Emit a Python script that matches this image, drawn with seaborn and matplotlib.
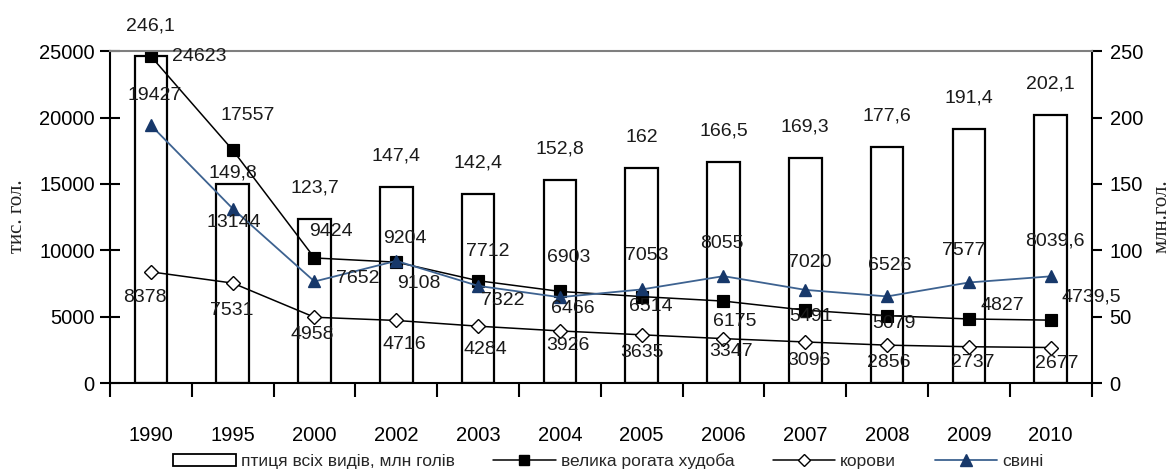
import numpy as np
import matplotlib
matplotlib.use('Agg')
import matplotlib.pyplot as plt
import seaborn as sns
from matplotlib.patches import Patch
from matplotlib.lines import Line2D

# data
years = ['1990', '1995', '2000', '2002', '2003', '2004', '2005', '2006', '2007', '2008', '2009', '2010']
poultry = [246.1, 149.8, 123.7, 147.4, 142.4, 152.8, 162, 166.5, 169.3, 177.6, 191.4, 202.1]
cattle = [24623, 17557, 9424, 9108, 7712, 6903, 6514, 6175, 5491, 5079, 4827, 4739.5]
cows = [8378, 7531, 4958, 4716, 4284, 3926, 3635, 3347, 3096, 2856, 2737, 2677]
pigs = [19427, 13144, 7652, 9204, 7322, 6466, 7053, 8055, 7020, 6526, 7577, 8039.6]

poultry_lbl = ['246,1', '149,8', '123,7', '147,4', '142,4', '152,8', '162', '166,5', '169,3', '177,6', '191,4', '202,1']
cattle_lbl = ['24623', '17557', '9424', '9108', '7712', '6903', '6514', '6175', '5491', '5079', '4827', '4739,5']
cows_lbl = ['8378', '7531', '4958', '4716', '4284', '3926', '3635', '3347', '3096', '2856', '2737', '2677']
pigs_lbl = ['19427', '13144', '7652', '9204', '7322', '6466', '7053', '8055', '7020', '6526', '7577', '8039,6']

# label offsets in pixels (style only)
cattle_off = [(48, 0), (15, 35), (16, 26), (23, -21), (10, 29), (9, 34), (9, -10), (11, -20), (6, -6), (7, -8), (33, 13), (41, 23)]
pigs_off = [(4, 30), (1, -14), (43, 3), (9, 22), (25, -15), (13, -11), (5, 34), (-2, 33), (4, 27), (3, 31), (-5, 32), (4, 35)]
cows_off = [(-6, -26), (-1, -27), (-2, -17), (8, -24), (7, -23), (8, -15), (0, -18), (8, -13), (4, -19), (2, -17), (4, -16), (6, -16)]
bar_off = [30, 11, 31, 31, 31, 31, 31, 31, 31, 31, 31, 31]

sns.set_theme(style='white')
plt.rcParams['font.family'] = ['Liberation Sans', 'DejaVu Sans']

fig = plt.figure(figsize=(11.7, 4.7), dpi=100)
ax = fig.add_axes([0.094, 0.185, 0.839, 0.706])
ax2 = ax.twinx()

pig_line = '#3d6290'
pig_mark = '#17386a'

# bars on right axis
sns.barplot(x=years, y=poultry, ax=ax2, color='white', width=0.4, saturation=1)
for p in ax2.patches:
    p.set_edgecolor('black')
    p.set_linewidth(1.6)
ax2.set_ylim(0, 250)
ax2.set_yticks(np.arange(0, 251, 50))

# lines on left axis
sns.pointplot(x=years, y=cattle, ax=ax, color='black', markers='s', errorbar=None,
              markersize=8, linewidth=1.1)
sns.pointplot(x=years, y=cows, ax=ax, color='black', markers='D', errorbar=None,
              markersize=7, linewidth=1.1, markerfacecolor='white', markeredgewidth=1.0)
sns.pointplot(x=years, y=pigs, ax=ax, color=pig_line, markers='^', errorbar=None,
              markersize=9, linewidth=1.3, markerfacecolor=pig_mark, markeredgecolor=pig_mark)
ax.set_ylim(0, 25000)
ax.set_yticks(np.arange(0, 25001, 5000))
ax.set_xlim(-0.5, 11.5)

ax.set_zorder(ax2.get_zorder() + 1)
ax.patch.set_visible(False)

fs = 14
txt_col = '#1a1a1a'
for i, v in enumerate(poultry):
    ax2.annotate(poultry_lbl[i], (i, v), xytext=(0, bar_off[i]), textcoords='offset pixels',
                 ha='center', va='center', fontsize=fs, color=txt_col)
for vals, lbls, offs in [(cattle, cattle_lbl, cattle_off), (pigs, pigs_lbl, pigs_off), (cows, cows_lbl, cows_off)]:
    for i, v in enumerate(vals):
        ax.annotate(lbls[i], (i, v), xytext=offs[i], textcoords='offset pixels',
                    ha='center', va='center', fontsize=fs, color=txt_col, zorder=5)

# axes styling
for a in (ax, ax2):
    a.set_xlabel('')
    a.set_ylabel('')
    for s in a.spines.values():
        s.set_visible(False)
ax.spines['left'].set_visible(True)
ax.spines['left'].set_color('black')
ax.spines['left'].set_linewidth(1.5)
ax.spines['bottom'].set_visible(True)
ax.spines['bottom'].set_color('black')
ax.spines['bottom'].set_linewidth(1.5)
ax.spines['top'].set_visible(True)
ax.spines['top'].set_color('#7f7f7f')
ax.spines['top'].set_linewidth(1.5)
ax2.spines['right'].set_visible(True)
ax2.spines['right'].set_color('black')
ax2.spines['right'].set_linewidth(1.5)

ax.tick_params(axis='y', left=True, direction='inout', length=14, width=1.5, labelsize=14.5, pad=4, colors='black')
ax2.tick_params(axis='y', right=True, direction='out', length=7, width=1.5, labelsize=14.5, pad=6, colors='black')
ax.set_xticks(range(len(years)))
ax.set_xticklabels(years)
ax.set_xticks(np.arange(-0.5, len(years), 1), minor=True)
ax.tick_params(axis='x', which='major', length=0, labelsize=14.5, pad=31, colors='black')
ax.tick_params(axis='x', which='minor', bottom=True, direction='out', length=10, width=1.5, color='black')
ax2.tick_params(axis='x', which='both', length=0, labelbottom=False)

fig.text(0.015, 0.54, 'тис. гол.', rotation=90, ha='center', va='center',
         fontsize=15, family='Liberation Serif', color='#222222')
fig.text(0.993, 0.54, 'млн.гол.', rotation=90, ha='center', va='center',
         fontsize=15, family='Liberation Serif', color='#222222')

handles = [
    Patch(facecolor='white', edgecolor='black', linewidth=1.3),
    Line2D([], [], color='black', marker='s', markersize=7, linewidth=1.1),
    Line2D([], [], color='black', marker='D', markersize=6, markerfacecolor='white', linewidth=1.1),
    Line2D([], [], color=pig_line, marker='^', markersize=8, markerfacecolor=pig_mark,
           markeredgecolor=pig_mark, linewidth=1.3),
]
labels = ['птиця всіх видів, млн голів', 'велика рогата худоба', 'корови', 'свині']
fig.legend(handles, labels, loc='center', bbox_to_anchor=(0.52, 0.018), ncol=4, frameon=False,
           fontsize=12.5, handlelength=3.6, handletextpad=0.3, columnspacing=2.2)

fig.savefig('out.png', dpi=100)
